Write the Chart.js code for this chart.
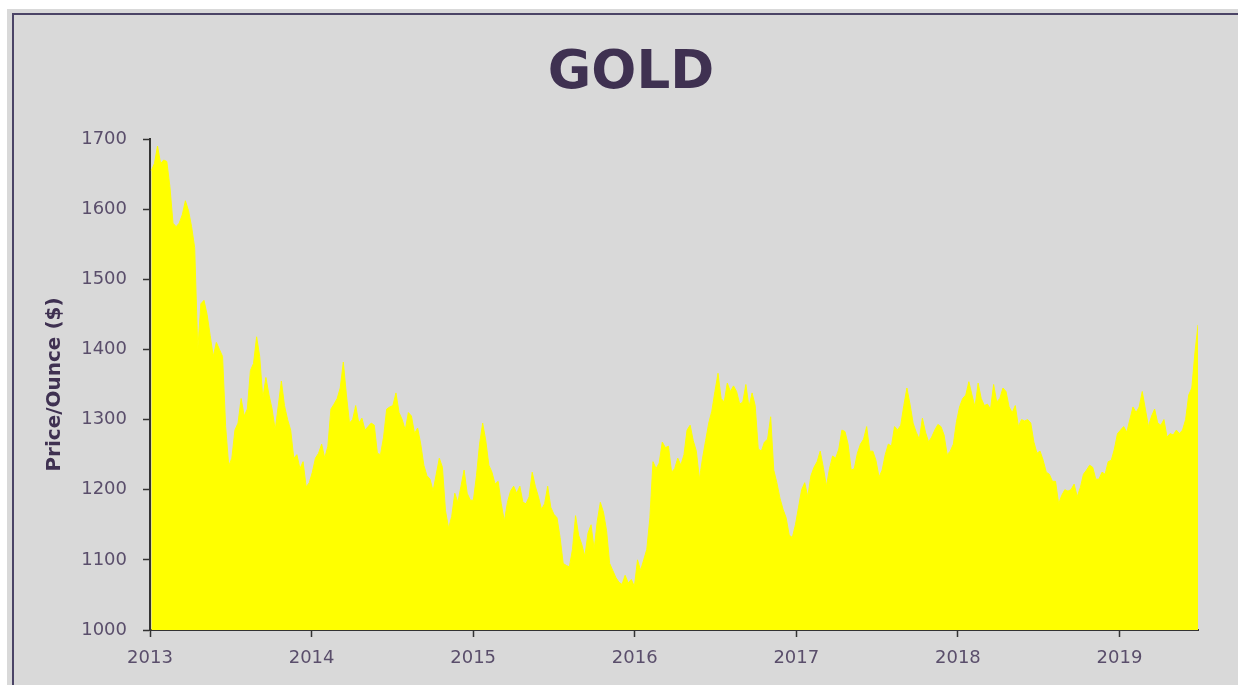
<!DOCTYPE html>
<html>
<head>
<meta charset="utf-8">
<title>GOLD</title>
<script src="https://cdn.jsdelivr.net/npm/chart.js@4.4.1/dist/chart.umd.min.js"></script>
<style>
  html, body { margin: 0; padding: 0; background: #fff; overflow: hidden; }
  #frame { position: absolute; left: 7px; top: 9px; width: 1231px; height: 676px; background: #d9d9d9; }
  #edge { position: absolute; left: 5px; top: 4px; right: 0; bottom: 0;
          border-left: 2px solid #4b4466; border-top: 2px solid #4b4466; }
  #chart { position: absolute; left: 0; top: 0; }
</style>
</head>
<body>
<div id="frame"><div id="edge"></div></div>
<canvas id="chart" width="1238" height="685"></canvas>
<script>
// weekly gold price ($/oz), one value per Friday, starting Fri 4 Jan 2013
const gold2013 = [1655, 1665, 1690, 1665, 1670, 1668, 1632, 1580,
  1575, 1580, 1592, 1612, 1598, 1575, 1545, 1400, 1465,
  1470, 1450, 1420, 1390, 1410, 1400, 1390, 1290, 1234,
  1245, 1285, 1295, 1330, 1305, 1315, 1370, 1380, 1418,
  1390, 1330, 1360, 1335, 1315, 1285, 1320, 1355,
  1320, 1300, 1285, 1245, 1250, 1230, 1240, 1204, 1210];
const gold2014 = [1225, 1245, 1252, 1265, 1245, 1262, 1315, 1322, 1330,
  1345, 1382, 1335, 1295, 1300, 1320, 1295, 1302,
  1285, 1290, 1295, 1292, 1252, 1250, 1275, 1315, 1318,
  1320, 1338, 1310, 1300, 1285, 1310, 1305, 1280, 1288,
  1265, 1235, 1220, 1215, 1198, 1222, 1245, 1232, 1170,
  1145, 1162, 1195, 1182, 1205, 1228, 1195, 1185];
const gold2015 = [1185, 1220, 1265, 1295, 1270, 1235, 1225, 1208, 1212,
  1180, 1155, 1182, 1198, 1205, 1195, 1205, 1182,
  1180, 1190, 1225, 1205, 1190, 1172, 1180, 1205, 1175,
  1165, 1160, 1132, 1095, 1092, 1090, 1115, 1163, 1135,
  1122, 1105, 1138, 1150, 1115, 1155, 1182, 1168, 1142,
  1095, 1085, 1075, 1068, 1065, 1078, 1067, 1072];
const gold2016 = [1062, 1100, 1085, 1100, 1115, 1160, 1240, 1230, 1238,
  1268, 1260, 1262, 1225, 1230, 1245, 1235, 1250, 1285,
  1292, 1270, 1255, 1215, 1245, 1270, 1295, 1312,
  1340, 1366, 1330, 1325, 1352, 1340, 1348, 1340, 1322,
  1325, 1350, 1318, 1338, 1320, 1258, 1255, 1268, 1272,
  1304, 1228, 1210, 1188, 1172, 1160, 1135, 1132, 1150];
const gold2017 = [1175, 1200, 1210, 1190, 1220, 1232, 1240, 1255,
  1232, 1205, 1230, 1248, 1245, 1258, 1285, 1283, 1265,
  1228, 1230, 1252, 1265, 1272, 1290, 1255, 1255, 1242,
  1218, 1228, 1250, 1265, 1262, 1290, 1285, 1292,
  1320, 1345, 1322, 1295, 1282, 1272, 1302, 1282, 1268,
  1275, 1285, 1293, 1290, 1278, 1250, 1255, 1265, 1297];
const gold2018 = [1318, 1330, 1335, 1354, 1335, 1318, 1352, 1330,
  1320, 1322, 1315, 1350, 1325, 1330, 1345, 1340, 1318,
  1310, 1320, 1290, 1300, 1298, 1300, 1295, 1268, 1252,
  1255, 1242, 1225, 1222, 1212, 1212, 1180, 1192, 1200,
  1198, 1200, 1208, 1190, 1203, 1222, 1228, 1235,
  1232, 1215, 1215, 1225, 1222, 1240, 1242, 1258, 1280];
const gold2019 = [1285, 1290, 1282, 1300, 1318, 1310, 1318, 1340,
  1315, 1290, 1305, 1315, 1295, 1292, 1300, 1275, 1280,
  1278, 1285, 1280, 1285, 1300, 1335, 1345, 1395, 1435];

const yearTicks = [2013, 2014, 2015, 2016, 2017, 2018, 2019];
const priceTicks = [1000, 1100, 1200, 1300, 1400, 1500, 1600, 1700];

// ---------- build points (x = decimal year of each Friday) ----------
const DAY = 864e5;
const firstFriday = Date.UTC(2013, 0, 4);
const yearStart = Date.UTC(2013, 0, 1);
const prices = [].concat(gold2013, gold2014, gold2015, gold2016, gold2017, gold2018, gold2019);
const points = prices.map((v, i) => ({
  x: yearTicks[0] + (firstFriday - yearStart + i * 7 * DAY) / (365.25 * DAY),
  y: v
}));

const tickFont = { family: 'DejaVu Sans', size: 18 };
const tickColor = '#5a4e6b';
const axisColor = '#333333';
const titleColor = '#3f3151';

new Chart(document.getElementById('chart'), {
  type: 'line',
  data: {
    datasets: [{
      data: points,
      fill: 'start',
      backgroundColor: '#ffff00',
      borderColor: '#ffff00',
      borderWidth: 1,
      pointRadius: 0,
      tension: 0
    }]
  },
  options: {
    responsive: false,
    animation: false,
    devicePixelRatio: 1,
    layout: { padding: { left: 24, right: 0, top: 0, bottom: 0 } },
    plugins: {
      legend: { display: false },
      tooltip: { enabled: false },
      title: {
        display: true,
        text: 'GOLD',
        color: titleColor,
        font: { family: 'DejaVu Sans', size: 53, weight: 'bold' },
        padding: { top: 42, bottom: 33.4 }
      }
    },
    scales: {
      x: {
        type: 'linear',
        min: yearTicks[0],
        max: points[points.length - 1].x,
        border: { display: true, color: axisColor, width: 2 },
        grid: { drawOnChartArea: false, tickLength: 7, tickColor: axisColor, tickWidth: 1.5 },
        afterBuildTicks: s => { s.ticks = yearTicks.map(v => ({ value: v })); },
        ticks: {
          autoSkip: false, maxRotation: 0, padding: 11,
          color: tickColor, font: tickFont,
          callback: v => String(v)
        },
        afterFit: s => { s.height = 55; }
      },
      y: {
        min: priceTicks[0],
        max: priceTicks[priceTicks.length - 1],
        border: { display: true, color: axisColor, width: 2 },
        grid: { drawOnChartArea: false, tickLength: 7, tickColor: axisColor, tickWidth: 1.5 },
        afterBuildTicks: s => { s.ticks = priceTicks.map(v => ({ value: v })); },
        ticks: { padding: 16, color: tickColor, font: tickFont, callback: v => String(v) },
        title: {
          display: true,
          text: 'Price/Ounce ($)',
          color: titleColor,
          font: { family: 'DejaVu Sans', size: 20, weight: 'bold' },
          padding: { top: 19 }
        },
        afterFit: s => { s.width = 126; }
      },
      // empty right-hand axis: only reserves the gap right of the plot
      y2: {
        type: 'linear',
        position: 'right',
        grid: { display: false },
        border: { display: false },
        ticks: { display: false },
        afterFit: s => { s.width = 40; }
      }
    }
  }
});
</script>
</body>
</html>
